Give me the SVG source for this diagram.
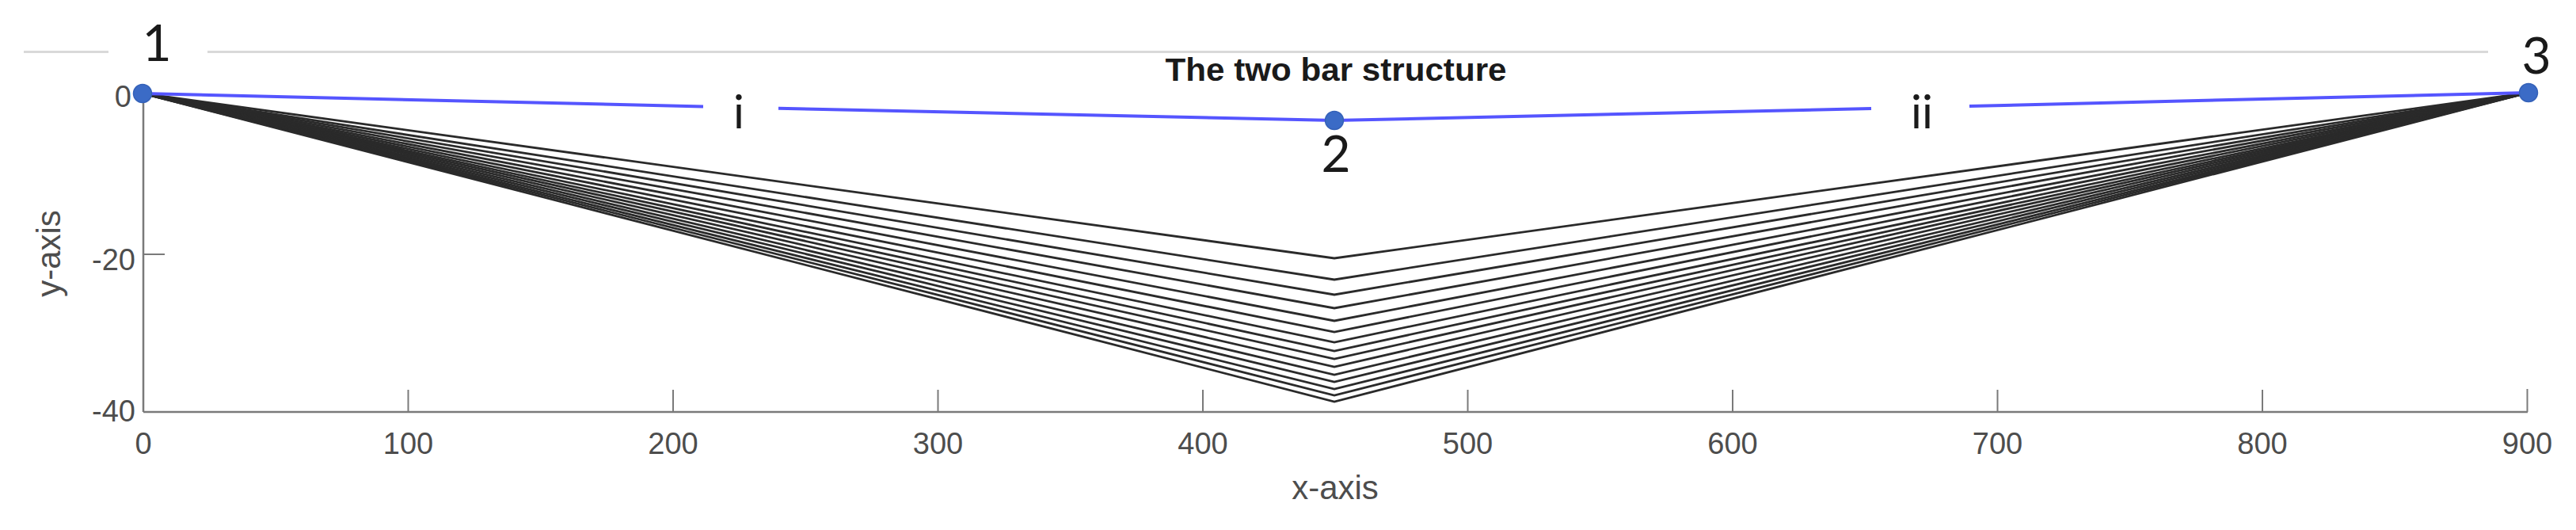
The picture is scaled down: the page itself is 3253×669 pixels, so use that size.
<svg xmlns="http://www.w3.org/2000/svg" width="3253" height="669" viewBox="0 0 3253 669">
  <style>
    .frame { stroke: #d9d9d9; stroke-width: 3; fill: none; }
    .axis { stroke: #7a7a7a; stroke-width: 2.5; fill: none; }
    .tick { stroke: #7a7a7a; stroke-width: 2; fill: none; }
    .ticklbl { font-family: "Liberation Sans", Arial, sans-serif; font-size: 38px; fill: #4d4d4d; }
    .axlbl { font-family: "Liberation Sans", Arial, sans-serif; font-size: 42px; fill: #4d4d4d; text-anchor: middle; }
    .title { font-family: "Liberation Sans", Arial, sans-serif; font-size: 40px; font-weight: bold; fill: #1a1a1a; text-anchor: middle; }
    .deformed { stroke: #2a2a2a; stroke-width: 2.8; fill: none; stroke-linejoin: miter; }
    .bar { stroke: #5555ff; stroke-width: 4; fill: none; }
    .node { fill: #3b6bc6; stroke: #3461b8; stroke-width: 1.5; }
    .nlbl { font-family: Lato, "Liberation Sans", sans-serif; font-size: 64px; fill: #1a1a1a; text-anchor: middle; }
    .blbl { font-family: Lato, "Liberation Sans", sans-serif; font-size: 58px; fill: #1a1a1a; text-anchor: middle; }
  </style>

  <rect width="3253" height="669" fill="#ffffff"/>

  <!-- top frame line -->
  <g id="frame">
    <line class="frame" x1="30" y1="65.5" x2="137" y2="65.5"/>
    <line class="frame" x1="262" y1="65.5" x2="3142" y2="65.5"/>
  </g>

  <!-- axes -->
  <g id="axes">
    <line class="axis" x1="181" y1="118" x2="181" y2="520"/>
    <line class="axis" x1="181" y1="520" x2="3192" y2="520"/>
    <line class="tick" x1="181" y1="321" x2="208" y2="321"/>
    <line class="tick" x1="515.5" y1="520" x2="515.5" y2="492"/>
    <line class="tick" x1="850" y1="520" x2="850" y2="492"/>
    <line class="tick" x1="1184.5" y1="520" x2="1184.5" y2="492"/>
    <line class="tick" x1="1519" y1="520" x2="1519" y2="492"/>
    <line class="tick" x1="1853.5" y1="520" x2="1853.5" y2="492"/>
    <line class="tick" x1="2188" y1="520" x2="2188" y2="492"/>
    <line class="tick" x1="2522.5" y1="520" x2="2522.5" y2="492"/>
    <line class="tick" x1="2857" y1="520" x2="2857" y2="492"/>
    <line class="tick" x1="3191.5" y1="520" x2="3191.5" y2="491"/>

    <g class="ticklbl" text-anchor="middle">
      <text x="181" y="573">0</text>
      <text x="515.5" y="573">100</text>
      <text x="850" y="573">200</text>
      <text x="1184.5" y="573">300</text>
      <text x="1519" y="573">400</text>
      <text x="1853.5" y="573">500</text>
      <text x="2188" y="573">600</text>
      <text x="2522.5" y="573">700</text>
      <text x="2857" y="573">800</text>
      <text x="3191.5" y="573">900</text>
    </g>
    <g class="ticklbl" text-anchor="end">
      <text x="166" y="135">0</text>
      <text x="171" y="341">-20</text>
      <text x="171" y="532">-40</text>
    </g>

    <text class="axlbl" x="1686" y="630">x-axis</text>
    <text class="axlbl" transform="translate(76,320) rotate(-90)">y-axis</text>
    <text class="title" x="1687" y="102" textLength="431" lengthAdjust="spacingAndGlyphs">The two bar structure</text>
  </g>

  <!-- connectors: deformed shapes and bars -->
  <g id="connectors">
    <g id="deformed-shapes">
      <polyline class="deformed" points="180,118 1685,326 3193,117"/>
      <polyline class="deformed" points="180,118 1685,353 3193,117"/>
      <polyline class="deformed" points="180,118 1685,372 3193,117"/>
      <polyline class="deformed" points="180,118 1685,389 3193,117"/>
      <polyline class="deformed" points="180,118 1685,405 3193,117"/>
      <polyline class="deformed" points="180,118 1685,419 3193,117"/>
      <polyline class="deformed" points="180,118 1685,432 3193,117"/>
      <polyline class="deformed" points="180,118 1685,443 3193,117"/>
      <polyline class="deformed" points="180,118 1685,453 3193,117"/>
      <polyline class="deformed" points="180,118 1685,463 3193,117"/>
      <polyline class="deformed" points="180,118 1685,473 3193,117"/>
      <polyline class="deformed" points="180,118 1685,482 3193,117"/>
      <polyline class="deformed" points="180,118 1685,491 3193,117"/>
      <polyline class="deformed" points="180,118 1685,499 3193,117"/>
      <polyline class="deformed" points="180,118 1685,507 3193,117"/>
    </g>
    <g id="bar-i">
      <line class="bar" x1="180" y1="118" x2="888" y2="134.5"/>
      <line class="bar" x1="983" y1="136.7" x2="1685" y2="152"/>
      <text class="blbl" x="933" y="162">i</text>
    </g>
    <g id="bar-ii">
      <line class="bar" x1="1685" y1="152" x2="2363" y2="137"/>
      <line class="bar" x1="2487" y1="134" x2="3193" y2="117"/>
      <text class="blbl" x="2427" y="162">ii</text>
    </g>
  </g>

  <!-- nodes -->
  <g id="node1">
    <circle class="node" cx="180" cy="118" r="11.5"/>
    <text class="nlbl" x="198" y="77">1</text>
  </g>
  <g id="node2">
    <circle class="node" cx="1685" cy="152" r="11.5"/>
    <text class="nlbl" x="1687" y="217">2</text>
  </g>
  <g id="node3">
    <circle class="node" cx="3193" cy="117" r="11.5"/>
    <text class="nlbl" x="3203" y="93">3</text>
  </g>
</svg>
